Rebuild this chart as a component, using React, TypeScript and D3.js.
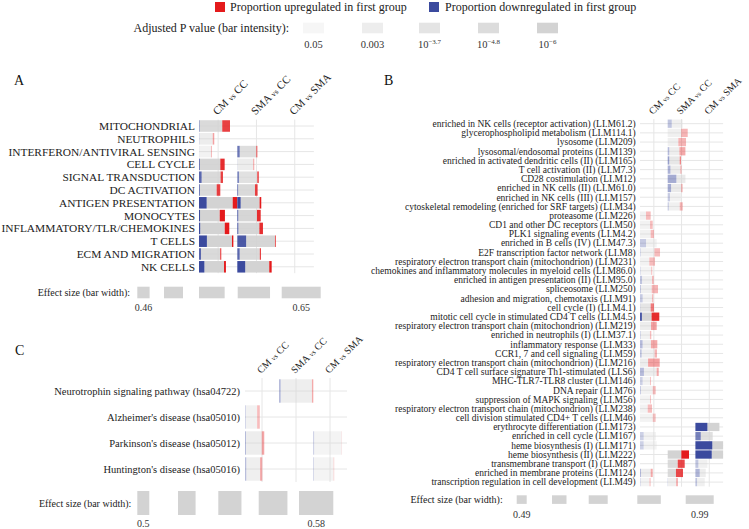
import React, { useEffect } from 'react';
import * as d3 from 'd3';

const FONT = '"Liberation Serif", "Times New Roman", Times, serif';
const RED = '#e41a1c';
const BLUE = '#3b4a9e';
const GRAY = '#d3d3d3';
const GRID = '#e6e6e6';

// ---------- data ----------
const comparisons = ['CM vs CC', 'SMA vs CC', 'CM vs SMA'];

const pKeyLogP = [1.3, 2.52, 3.7, 4.8, 6];
const pKeyLabels = [
  { base: '0.05', exp: '' },
  { base: '0.003', exp: '' },
  { base: '10', exp: '−3.7' },
  { base: '10', exp: '−4.8' },
  { base: '10', exp: '−6' },
];

// Panel A
const aRows = [
  'MITOCHONDRIAL', 'NEUTROPHILS', 'INTERFERON/ANTIVIRAL SENSING', 'CELL CYCLE',
  'SIGNAL TRANSDUCTION', 'DC ACTIVATION', 'ANTIGEN PRESENTATION', 'MONOCYTES',
  'INFLAMMATORY/TLR/CHEMOKINES', 'T CELLS', 'ECM AND MIGRATION', 'NK CELLS',
];
const aEffect = [
  [0.593, null, null], [0.481, null, null], [0.465, 0.515, null], [0.555, 0.493, null],
  [0.543, 0.527, null], [0.524, 0.517, null], [0.645, 0.543, null], [0.557, 0.539, null],
  [0.588, 0.555, null], [0.617, 0.646, null], [0.531, 0.541, null], [0.564, 0.617, null],
];
const aUp = [
  [0.25, 0, 0], [0.10, 0, 0], [0.08, 0.05, 0], [0.17, 0.06, 0],
  [0.10, 0.09, 0], [0.17, 0.13, 0], [0.12, 0.07, 0], [0.20, 0.16, 0],
  [0.15, 0.14, 0], [0.04, 0.02, 0], [0.05, 0.05, 0], [0.07, 0.07, 0],
];
const aDown = [
  [0.015, 0, 0], [0.02, 0, 0], [0.01, 0.12, 0], [0.03, 0.01, 0],
  [0.11, 0.08, 0], [0.04, 0.04, 0], [0.20, 0.14, 0], [0.04, 0.04, 0],
  [0.04, 0.04, 0], [0.23, 0.23, 0], [0.09, 0.10, 0], [0.20, 0.23, 0],
];
const aLogP = [
  [5, 0, 0], [2.5, 0, 0], [1.8, 4.5, 0], [5.5, 2.5, 0],
  [5, 4, 0], [5, 5, 0], [6, 6, 0], [6, 5.5, 0],
  [6, 5.5, 0], [6, 5.5, 0], [5, 5, 0], [6, 6, 0],
];
const aEsTicks = [0.46, 0.65];

// Panel B
const bRows = [
  'enriched in NK cells (receptor activation) (LI.M61.2)',
  'glycerophospholipid metabolism (LI.M114.1)',
  'lysosome (LI.M209)',
  'lysosomal/endosomal proteins (LI.M139)',
  'enriched in activated dendritic cells (II) (LI.M165)',
  'T cell activation (II) (LI.M7.3)',
  'CD28 costimulation (LI.M12)',
  'enriched in NK cells (II) (LI.M61.0)',
  'enriched in NK cells (III) (LI.M157)',
  'cytoskeletal remodeling (enriched for SRF targets) (LI.M34)',
  'proteasome (LI.M226)',
  'CD1 and other DC receptors (LI.M50)',
  'PLK1 signaling events (LI.M4.2)',
  'enriched in B cells (IV) (LI.M47.3)',
  'E2F transcription factor network (LI.M8)',
  'respiratory electron transport chain (mitochondrion) (LI.M231)',
  'chemokines and inflammatory molecules in myeloid cells (LI.M86.0)',
  'enriched in antigen presentation (II) (LI.M95.0)',
  'spliceosome (LI.M250)',
  'adhesion and migration, chemotaxis (LI.M91)',
  'cell cycle (I) (LI.M4.1)',
  'mitotic cell cycle in stimulated CD4 T cells (LI.M4.5)',
  'respiratory electron transport chain (mitochondrion) (LI.M219)',
  'enriched in neutrophils (I) (LI.M37.1)',
  'inflammatory response (LI.M33)',
  'CCR1, 7 and cell signaling (LI.M59)',
  'respiratory electron transport chain (mitochondrion) (LI.M216)',
  'CD4 T cell surface signature Th1-stimulated (LI.S6)',
  'MHC-TLR7-TLR8 cluster (LI.M146)',
  'DNA repair (LI.M76)',
  'suppression of MAPK signaling (LI.M56)',
  'respiratory electron transport chain (mitochondrion) (LI.M238)',
  'cell division stimulated CD4+ T cells (LI.M46)',
  'erythrocyte differentiation (LI.M173)',
  'enriched in cell cycle (LI.M167)',
  'heme biosynthesis (I) (LI.M171)',
  'heme biosynthesis (II) (LI.M222)',
  'transmembrane transport (I) (LI.M87)',
  'enriched in membrane proteins (LI.M124)',
  'transcription regulation in cell development (LI.M49)',
];
const bEffect = [
  [null, 0.629, null], [null, 0.768, null], [null, 0.721, null], [null, 0.704, null],
  [null, 0.582, null], [null, 0.593, null], [null, 0.704, null], [null, 0.621, null],
  [null, 0.582, null], [null, 0.629, null], [0.509, null, null], [0.565, null, null],
  [0.601, null, null], [0.676, null, null], [0.768, null, null], [0.629, null, null],
  [0.554, null, null], [0.593, null, null], [0.712, null, null], [0.582, null, null],
  [0.601, null, null], [0.748, null, null], [0.676, null, null], [0.526, null, null],
  [0.693, null, null], [0.684, null, null], [0.759, null, null], [0.732, null, null],
  [0.518, null, null], [0.648, null, null], [0.518, null, null], [0.546, null, null],
  [0.648, null, null], [null, null, 0.879], [0.657, null, 0.693], [0.676, null, 0.982],
  [null, 0.804, 0.982], [null, 0.684, 0.546], [0.565, 0.637, 0.498], [0.509, 0.498, 0.471],
];
const bUp = [
  [0, 0, 0], [0, 0.33, 0], [0, 0.42, 0], [0, 0.34, 0],
  [0, 0.10, 0], [0, 0.07, 0], [0, 0, 0], [0, 0.07, 0],
  [0, 0, 0], [0, 0.20, 0], [0.44, 0, 0], [0.21, 0, 0],
  [0.24, 0, 0], [0, 0, 0], [0.28, 0, 0], [0.38, 0, 0],
  [0.10, 0, 0], [0.12, 0, 0], [0.35, 0, 0], [0.10, 0, 0],
  [0.24, 0, 0], [0.40, 0, 0], [0.34, 0, 0], [0.12, 0, 0],
  [0.37, 0, 0], [0.14, 0, 0], [0.59, 0, 0], [0.11, 0, 0],
  [0.09, 0, 0], [0.19, 0, 0], [0.09, 0, 0], [0.36, 0, 0],
  [0.19, 0, 0], [0, 0, 0], [0, 0, 0], [0, 0, 0],
  [0, 0.36, 0], [0, 0.41, 0], [0.16, 0.46, 0], [0.12, 0.19, 0],
];
const bDown = [
  [0, 0.27, 0], [0, 0, 0], [0, 0, 0], [0, 0.09, 0],
  [0, 0.12, 0], [0, 0.20, 0], [0, 0.49, 0], [0, 0.23, 0],
  [0, 0.17, 0], [0, 0.07, 0], [0, 0, 0], [0, 0, 0],
  [0, 0, 0], [0.36, 0, 0], [0.03, 0, 0], [0, 0, 0],
  [0.05, 0, 0], [0.15, 0, 0], [0.05, 0, 0], [0.20, 0, 0],
  [0.01, 0, 0], [0.10, 0, 0], [0, 0, 0], [0.06, 0, 0],
  [0.15, 0, 0], [0.10, 0, 0], [0, 0, 0], [0.21, 0, 0],
  [0.24, 0, 0], [0.06, 0, 0], [0, 0, 0], [0, 0, 0],
  [0, 0, 0], [0, 0, 0.50], [0.23, 0, 0.31], [0.22, 0, 0.61],
  [0, 0, 0.59], [0, 0, 0.25], [0.08, 0, 0.42], [0.06, 0.03, 0.18],
];
const bLogP = [
  [0, 2.0, 0], [0, 2.0, 0], [0, 2.0, 0], [0, 2.3, 0],
  [0, 3.2, 0], [0, 2.6, 0], [0, 2.8, 0], [0, 2.8, 0],
  [0, 1.8, 0], [0, 2.0, 0], [1.8, 0, 0], [1.8, 0, 0],
  [1.8, 0, 0], [1.8, 0, 0], [1.8, 0, 0], [1.8, 0, 0],
  [1.5, 0, 0], [2.0, 0, 0], [2.0, 0, 0], [1.8, 0, 0],
  [3.5, 0, 0], [5.5, 0, 0], [2.5, 0, 0], [1.8, 0, 0],
  [2.3, 0, 0], [2.0, 0, 0], [2.5, 0, 0], [2.3, 0, 0],
  [1.6, 0, 0], [1.8, 0, 0], [1.5, 0, 0], [1.8, 0, 0],
  [1.6, 0, 0], [0, 0, 6], [1.6, 0, 4.2], [1.6, 0, 6],
  [0, 6, 6], [0, 4.8, 2.0], [2.3, 4.8, 2.5], [1.5, 2.0, 2.0],
];
const bEsTicks = [0.49, 0.99];

// Panel C
const cRows = [
  'Neurotrophin signaling pathway (hsa04722)',
  "Alzheimer's disease (hsa05010)",
  "Parkinson's disease (hsa05012)",
  "Huntington's disease (hsa05016)",
];
const cEffect = [
  [null, 0.58, null], [0.510, null, null], [0.526, null, 0.561], [0.519, null, 0.533],
];
const cUp = [[0, 0.04, 0], [0.18, 0, 0], [0.13, 0, 0.01], [0.13, 0, 0.03]];
const cDown = [[0, 0.05, 0], [0.05, 0, 0], [0.05, 0, 0.04], [0.075, 0, 0.04]];
const cLogP = [[0, 2.3, 0], [1.8, 0, 0], [2.4, 0, 1.5], [2.2, 0, 1.5]];
const cEsTicks = [0.5, 0.58];

// ---------- layout ----------
const layouts = {
  A: { letter: 'A', letterX: 14, letterY: 85, labelRight: 195, colLeft: 199, colW: 38.3,
       rowTop: 119.6, rowStep: 12.8, labelSize: 11.4, headerSize: 11, esRange: [12.3, 39],
       legendLefts: [137.3, 164, 199, 237.7, 281.7], legendY: 286.7, legendH: 11.6,
       legendTitleX: 130, legendLabelY: 311 },
  B: { letter: 'B', letterX: 384, letterY: 85, labelRight: 635.7, colLeft: 640, colW: 27.7,
       rowTop: 119.1, rowStep: 9.19, labelSize: 9.5, headerSize: 9.8, esRange: [10, 28],
       legendLefts: [516.7, 552, 588.7, 637.3, 685.7], legendY: 495.3, legendH: 8.6,
       legendTitleX: 502.7, legendLabelY: 518 },
  C: { letter: 'C', letterX: 15, letterY: 355, labelRight: 240, colLeft: 245, colW: 34,
       rowTop: 378, rowStep: 26, labelSize: 10.5, headerSize: 10, esRange: [12, 34.3],
       legendLefts: [137.3, 178, 218.3, 258.7, 299], legendY: 491, legendH: 24,
       legendTitleX: 131.3, legendLabelY: 527 },
};

const opacity = d3.scaleLinear().domain([1.3, 6]).range([0.2, 1]).clamp(true);

function Header({ x, y, label, size }) {
  const parts = label.split(' vs ');
  return (
    <text transform={`translate(${x},${y}) rotate(-45)`} fontSize={size} fill="#222">
      <tspan>{parts[0]} </tspan>
      <tspan fontSize={size * 0.72}>vs</tspan>
      <tspan> {parts[1]}</tspan>
    </text>
  );
}

function Panel({ L, rows, effect, up, down, logp, esTicks }) {
  const x = d3.scaleBand().domain(comparisons).range([L.colLeft, L.colLeft + L.colW * 3]);
  const y = d3.scaleBand().domain(rows).range([L.rowTop, L.rowTop + L.rowStep * rows.length]);
  const w = d3.scaleLinear().domain(esTicks).range(L.esRange);
  const bh = y.bandwidth() * 0.9;
  const gx0 = x.range()[0], gx1 = x.range()[1];
  const gy0 = y.range()[0], gy1 = y.range()[1];
  const legendVals = d3.range(5).map(i => esTicks[0] + (i * (esTicks[1] - esTicks[0])) / 4);
  return (
    <g>
      <text x={L.letterX} y={L.letterY} fontSize={14} fill="#111">{L.letter}</text>
      {comparisons.map(c => (
        <line key={c} x1={x(c) + x.bandwidth() / 2} x2={x(c) + x.bandwidth() / 2}
              y1={gy0} y2={gy1} stroke={GRID} strokeWidth={1} />
      ))}
      {rows.map(r => (
        <line key={r} x1={gx0} x2={gx1} y1={y(r) + y.bandwidth() / 2} y2={y(r) + y.bandwidth() / 2}
              stroke={GRID} strokeWidth={1} />
      ))}
      {comparisons.map(c => (
        <Header key={c} x={x(c) + x.bandwidth() / 2 - 1} y={gy0 - 4} label={c} size={L.headerSize} />
      ))}
      {rows.map(r => (
        <text key={r} x={L.labelRight} y={y(r) + y.bandwidth() / 2} dy="0.35em" textAnchor="end"
              fontSize={L.labelSize} fill="#222">{r}</text>
      ))}
      {rows.map((r, i) =>
        comparisons.map((c, j) => {
          const es = effect[i][j];
          if (es == null) return null;
          const x0 = x(c);
          const tw = w(es);
          const dw = tw * down[i][j];
          const uw = tw * up[i][j];
          const op = opacity(logp[i][j]);
          const yy = y(r) + (y.bandwidth() - bh) / 2;
          return (
            <g key={r + c} opacity={op}>
              <rect x={x0 + dw} y={yy} width={Math.max(0, tw - dw - uw)} height={bh} fill={GRAY} />
              {dw > 0 && <rect x={x0} y={yy} width={dw} height={bh} fill={BLUE} />}
              {uw > 0 && <rect x={x0 + tw - uw} y={yy} width={uw} height={bh} fill={RED} />}
            </g>
          );
        })
      )}
      <text x={L.legendTitleX} y={L.legendY + L.legendH / 2} dy="0.35em" textAnchor="end"
            fontSize={10} fill="#222">Effect size (bar width):</text>
      {legendVals.map((v, k) => (
        <rect key={k} x={L.legendLefts[k]} y={L.legendY} width={w(v)} height={L.legendH} fill={GRAY} />
      ))}
      <text x={L.legendLefts[0] + w(legendVals[0]) / 2} y={L.legendLabelY} textAnchor="middle"
            fontSize={10} fill="#333">{esTicks[0]}</text>
      <text x={L.legendLefts[4] + w(legendVals[4]) / 2} y={L.legendLabelY} textAnchor="middle"
            fontSize={10} fill="#333">{esTicks[1]}</text>
    </g>
  );
}

function TopLegend() {
  const boxLefts = [303, 362, 419, 478, 537];
  return (
    <g>
      <rect x={215} y={2} width={10} height={10} fill={RED} />
      <text x={230} y={7} dy="0.35em" fontSize={12} fill="#222">Proportion upregulated in first group</text>
      <rect x={429} y={2} width={10} height={10} fill={BLUE} />
      <text x={445} y={7} dy="0.35em" fontSize={12} fill="#222">Proportion downregulated in first group</text>
      <text x={289} y={28} dy="0.35em" textAnchor="end" fontSize={12} fill="#222">Adjusted P value (bar intensity):</text>
      {pKeyLogP.map((lp, k) => (
        <g key={k}>
          <rect x={boxLefts[k]} y={22.7} width={21} height={10.6} fill={GRAY} opacity={opacity(lp)} />
          <text x={boxLefts[k] + 10.5} y={48} textAnchor="middle" fontSize={10.5} fill="#333">
            <tspan>{pKeyLabels[k].base}</tspan>
            {pKeyLabels[k].exp && <tspan dy={-4} fontSize={7}>{pKeyLabels[k].exp}</tspan>}
          </text>
        </g>
      ))}
    </g>
  );
}

export default function App() {
  useEffect(() => {
    document.body.style.margin = '0';
  }, []);
  return (
    <svg width={749} height={529} style={{ position: 'absolute', left: 0, top: 0, background: '#fff' }}
         fontFamily={FONT}>
      <rect width={749} height={529} fill="#fff" />
      <TopLegend />
      <Panel L={layouts.A} rows={aRows} effect={aEffect} up={aUp} down={aDown} logp={aLogP} esTicks={aEsTicks} />
      <Panel L={layouts.B} rows={bRows} effect={bEffect} up={bUp} down={bDown} logp={bLogP} esTicks={bEsTicks} />
      <Panel L={layouts.C} rows={cRows} effect={cEffect} up={cUp} down={cDown} logp={cLogP} esTicks={cEsTicks} />
    </svg>
  );
}
